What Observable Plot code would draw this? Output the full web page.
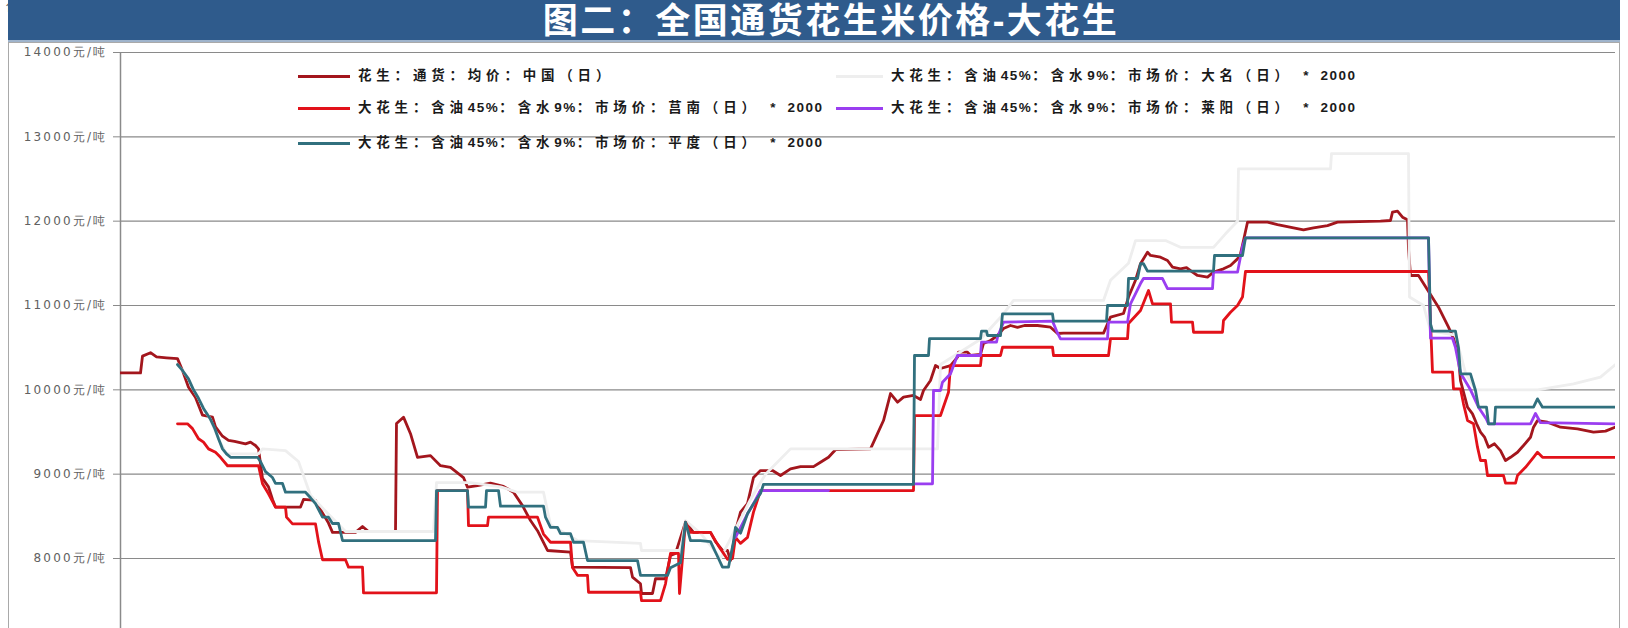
<!DOCTYPE html>
<html><head><meta charset="utf-8">
<script src="https://cdn.jsdelivr.net/npm/d3@7"></script>
<script src="https://cdn.jsdelivr.net/npm/@observablehq/plot@0.6"></script>
<style>
body{margin:0;background:#fff;}
#wrap{position:relative;width:1628px;height:628px;overflow:hidden;background:#fff;}
#panel{position:absolute;left:8px;top:42px;width:1612px;height:600px;border:1px solid #a9a9a9;box-sizing:border-box;}
#bar{position:absolute;left:8px;top:0;width:1612px;height:42px;background:#2f5b8c;border-bottom:2px solid #9fb4cc;box-sizing:border-box;}
#title{position:absolute;left:431px;top:0;width:800px;height:42px;text-align:center;color:#fff;font:bold 35px "Liberation Sans","Noto Sans CJK SC";letter-spacing:2.5px;line-height:41px;white-space:nowrap;}
#chart{position:absolute;left:0;top:0;}
#chart g[aria-label="y-axis tick label"] text{letter-spacing:2.2px;}
.sw{position:absolute;height:3px;width:52px;}
.lt{position:absolute;font:bold 13.5px "Liberation Sans","Noto Sans CJK SC";color:#1a1a1a;line-height:18px;white-space:pre;}
.cj{letter-spacing:4.8px;}
.as{letter-spacing:1.5px;}
</style></head>
<body>
<div id="wrap">
  <div id="panel"></div>
  <div id="chart"></div>
  <div id="bar"></div>
  <div id="title">图二：全国通货花生米价格-大花生</div>
  <div id="legend"></div>
</div>
<script>
// ---- data: [day offset from start date, price 元/吨] ----
const startDate = Date.UTC(2019, 8, 2);
const seriesNames = [
  "花生：通货：均价：中国（日）",
  "大花生：含油45%：含水9%：市场价：大名（日） * 2000",
  "大花生：含油45%：含水9%：市场价：莒南（日） * 2000",
  "大花生：含油45%：含水9%：市场价：莱阳（日） * 2000",
  "大花生：含油45%：含水9%：市场价：平度（日） * 2000"
];
const seriesColors = ["#a3161d", "#eeeeee", "#e2121a", "#9a3ef0", "#31707e"];
const yTicks = [8000, 9000, 10000, 11000, 12000, 13000, 14000];

const avgChina = [[0,10200],[20,10200],[22,10400],[30,10440],[36,10390],[46,10380],[57,10370],[62,10230],[68,10030],[75,9910],[82,9700],[92,9675],[95,9560],[102,9450],[108,9400],[114,9390],[125,9360],[130,9380],[135,9340],[138,9300],[142,8950],[148,8850],[152,8700],[155,8610],[180,8610],[183,8700],[195,8690],[200,8580],[208,8420],[212,8310],[235,8310],[242,8380],[248,8320],[275,8320],[276,9600],[283,9676],[290,9480],[297,9200],[310,9220],[320,9100],[330,9080],[343,8960],[347,8845],[357,8865],[370,8893],[383,8855],[393,8786],[402,8627],[410,8450],[417,8330],[427,8095],[450,8075],[452,7897],[510,7893],[512,7780],[520,7700],[521,7585],[532,7585],[535,7760],[545,7760],[550,8035],[555,8060],[565,8430],[573,8310],[590,8310],[595,8200],[602,8095],[607,8095],[610,7976],[616,8370],[620,8550],[627,8650],[633,8960],[640,9043],[652,9043],[660,8984],[670,9063],[680,9090],[693,9090],[700,9142],[708,9200],[715,9290],[750,9300],[757,9480],[763,9636],[770,9956],[777,9853],[783,9913],[793,9933],[800,9885],[803,9992],[810,10110],[815,10288],[820,10253],[830,10288],[837,10387],[838,10447],[847,10447],[850,10407],[860,10420],[863,10550],[870,10585],[877,10644],[883,10727],[890,10763],[897,10740],[904,10763],[917,10763],[930,10743],[937,10668],[943,10672],[983,10672],[990,10862],[1003,10905],[1008,11100],[1015,11300],[1020,11495],[1027,11632],[1030,11593],[1040,11573],[1047,11534],[1052,11455],[1060,11435],[1066,11450],[1072,11395],[1077,11356],[1087,11336],[1093,11395],[1103,11435],[1110,11474],[1117,11553],[1120,11612],[1123,11770],[1127,11988],[1147,11988],[1157,11960],[1173,11920],[1183,11897],[1193,11920],[1207,11948],[1217,11988],[1260,12000],[1270,12008],[1272,12107],[1277,12120],[1282,12047],[1287,12016],[1288,11672],[1290,11356],[1298,11356],[1318,10980],[1328,10743],[1337,10506],[1340,10110],[1347,9794],[1352,9715],[1356,9600],[1360,9498],[1364,9440],[1368,9320],[1374,9360],[1380,9280],[1385,9162],[1390,9200],[1397,9260],[1403,9340],[1410,9438],[1413,9557],[1417,9636],[1427,9616],[1440,9557],[1457,9537],[1473,9498],[1485,9510],[1495,9560]];

const daming = [[57,10300],[62,10230],[68,10130],[73,10000],[78,9900],[83,9780],[90,9650],[98,9420],[106,9240],[138,9240],[142,9300],[165,9280],[178,9150],[190,8750],[210,8500],[225,8320],[313,8320],[316,8900],[350,8900],[380,8850],[397,8786],[423,8786],[430,8400],[457,8213],[520,8180],[521,8095],[560,8095],[565,8450],[580,8300],[600,8000],[615,8350],[630,8700],[645,9000],[670,9300],[817,9300],[820,10300],[860,10600],[883,10900],[893,11060],[983,11060],[990,11300],[1008,11500],[1015,11770],[1045,11770],[1060,11690],[1093,11690],[1105,11850],[1117,12000],[1118,12620],[1210,12620],[1211,12800],[1288,12800],[1289,11100],[1303,11000],[1310,10700],[1335,10650],[1345,10200],[1355,10000],[1417,10000],[1453,10071],[1480,10150],[1495,10300]];

const junan = [[57,9597],[67,9597],[72,9540],[78,9420],[83,9380],[88,9300],[95,9260],[100,9200],[107,9100],[138,9100],[142,8886],[148,8767],[155,8610],[165,8610],[166,8490],[172,8410],[195,8410],[198,8200],[202,7985],[225,7985],[228,7897],[242,7897],[243,7593],[316,7593],[317,8806],[347,8806],[348,8390],[367,8390],[368,8490],[417,8490],[423,8290],[430,8193],[450,8193],[452,7893],[457,7800],[467,7800],[468,7600],[520,7600],[521,7500],[540,7500],[545,7700],[550,8060],[558,8060],[559,7585],[562,8000],[565,8430],[570,8310],[590,8310],[598,8150],[607,7990],[612,8000],[615,8250],[620,8180],[627,8250],[633,8550],[640,8806],[793,8806],[794,9695],[820,9695],[828,9972],[830,10288],[860,10288],[861,10407],[880,10407],[882,10505],[932,10505],[933,10407],[988,10407],[990,10608],[1007,10608],[1008,10786],[1020,10940],[1028,11178],[1032,11020],[1050,11020],[1051,10802],[1072,10802],[1073,10683],[1102,10683],[1103,10822],[1110,10920],[1117,11000],[1122,11100],[1125,11403],[1308,11403],[1312,10210],[1332,10210],[1333,10012],[1340,10012],[1343,9834],[1347,9636],[1353,9597],[1357,9320],[1360,9162],[1365,9162],[1367,8984],[1383,8984],[1385,8893],[1395,8893],[1397,8984],[1405,9082],[1413,9200],[1417,9260],[1422,9200],[1495,9200]];

const laiyang = [[615,8250],[627,8530],[633,8650],[640,8806],[708,8806],[750,null],[793,8886],[812,8886],[813,9992],[820,9992],[822,10090],[830,10190],[835,10348],[837,10407],[860,10407],[861,10565],[876,10565],[877,10624],[883,10802],[932,10815],[936,10700],[940,10605],[987,10605],[988,10802],[1007,10802],[1010,11020],[1020,11260],[1023,11320],[1042,11320],[1047,11200],[1092,11200],[1093,11395],[1117,11395],[1122,11700],[1125,11803],[1308,11803],[1310,10612],[1332,10612],[1335,10500],[1340,10200],[1350,10000],[1358,9794],[1366,9650],[1368,9597],[1410,9597],[1415,9720],[1420,9610],[1495,9597]];

const pingdu = [[57,10300],[62,10230],[68,10130],[73,10000],[78,9900],[83,9780],[90,9650],[94,9550],[98,9420],[102,9300],[106,9240],[110,9200],[137,9200],[140,9150],[145,9030],[152,8960],[155,8890],[162,8890],[165,8786],[185,8786],[190,8720],[195,8650],[202,8490],[208,8490],[212,8415],[218,8415],[222,8213],[315,8213],[316,8806],[347,8806],[348,8610],[365,8610],[366,8806],[378,8806],[380,8620],[423,8620],[425,8490],[430,8370],[437,8370],[440,8295],[450,8295],[453,8193],[463,8193],[467,7976],[517,7976],[520,7800],[547,7800],[550,7890],[560,7950],[565,8430],[570,8213],[580,8213],[590,8200],[598,8000],[602,7897],[608,7897],[613,8200],[615,8370],[620,8300],[627,8530],[633,8650],[640,8770],[643,8880],[793,8880],[794,10407],[808,10407],[809,10608],[860,10608],[861,10696],[866,10696],[867,10644],[880,10644],[882,10900],[932,10900],[933,10815],[986,10815],[987,11000],[1007,11000],[1008,11320],[1017,11320],[1020,11495],[1023,11495],[1027,11407],[1093,11407],[1094,11593],[1122,11593],[1125,11803],[1308,11803],[1310,10783],[1312,10695],[1335,10695],[1338,10500],[1340,10190],[1350,10190],[1355,9992],[1358,9794],[1366,9794],[1368,9597],[1374,9597],[1375,9794],[1413,9794],[1417,9893],[1422,9794],[1495,9794]];

const allSeries = [avgChina, daming, junan, laiyang, pingdu];
const dayMs = 86400000;
const rows = allSeries.flatMap((pts, i) => pts.map(([d, v]) => ({
  date: new Date(startDate + d * dayMs), value: v, series: seriesNames[i]
})));

const chart = Plot.plot({
  width: 1628, height: 628,
  marginLeft: 120, marginRight: 13, marginTop: 52, marginBottom: 0,
  x: {type: "utc", domain: [new Date(startDate), new Date(startDate + 1495 * dayMs)], axis: null},
  y: {domain: [7170, 14000], axis: null},
  color: {domain: seriesNames, range: seriesColors},
  style: {background: "transparent", color: "#616161", fontFamily: "DejaVu Sans", overflow: "visible"},
  marks: [
    Plot.ruleY(yTicks, {stroke: "#8a8a8a", strokeWidth: 1.2}),
    Plot.axisY(yTicks, {tickFormat: d => d + "元/吨", tickSize: 7, tickPadding: 6, fontSize: 12, stroke: "#8a8a8a"}),
    Plot.ruleX([new Date(startDate)], {y1: 7170, y2: 14000, stroke: "#8a8a8a", strokeWidth: 1.5}),
    Plot.line(rows, {x: "date", y: "value", z: "series", stroke: "series", strokeWidth: 2.8, clip: true})
  ]
});
document.getElementById("chart").appendChild(chart);

// legend (HTML, overlaid on the plot)
const legendSlots = [
  {i: 0, left: 298, top: 76}, {i: 1, left: 836, top: 76},
  {i: 2, left: 298, top: 108}, {i: 3, left: 836, top: 108},
  {i: 4, left: 298, top: 143}
];
const lg = document.getElementById("legend");
for (const s of legendSlots) {
  const sw = document.createElement("div");
  sw.className = "sw";
  sw.style.left = s.left + "px"; sw.style.top = (s.top - 1.5) + "px";
  sw.style.width = (s.i % 2 ? 47 : 52) + "px";
  sw.style.background = seriesColors[s.i];
  lg.appendChild(sw);
  const t = document.createElement("div");
  t.className = "lt";
  t.style.left = (s.left + (s.i % 2 ? 55 : 60)) + "px"; t.style.top = (s.top - 9) + "px";
  const runs = seriesNames[s.i].replace(" * ", "  *  ").match(/[\u3000-\u9fff\uff00-\uffef]+|[^\u3000-\u9fff\uff00-\uffef]+/g);
  for (const r of runs) {
    const sp = document.createElement("span");
    sp.className = /[\u3000-\u9fff\uff00-\uffef]/.test(r) ? "cj" : "as";
    sp.textContent = r;
    t.appendChild(sp);
  }
  lg.appendChild(t);
}
</script>
</body></html>
